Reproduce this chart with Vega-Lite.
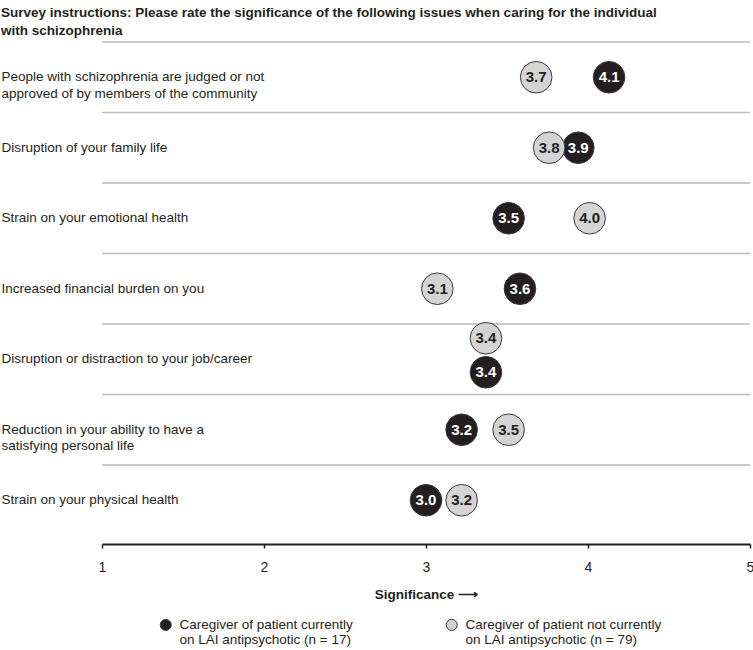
{
  "$schema": "https://vega.github.io/schema/vega-lite/v6.json",
  "autosize": {"type": "none"},
  "padding": {"left": 102, "top": 42, "right": 3, "bottom": 114.5},
  "width": 648,
  "height": 493.5,
  "background": "white",
  "config": {"font": "Liberation Sans", "view": {"stroke": null}},
  "title": {
    "text": ["Survey instructions: Please rate the significance of the following issues when caring for the individual", "with schizophrenia"],
    "anchor": "start",
    "frame": "group",
    "dx": -101,
    "offset": 4,
    "fontSize": 13.5,
    "fontWeight": "bold",
    "lineHeight": 18,
    "color": "#231f20"
  },
  "data": {
    "values": [
      {"issue": "People with schizophrenia are judged or not|approved of by members of the community", "group": "Caregiver of patient currently|on LAI antipsychotic (n = 17)", "value": 4.13, "label": "4.1"},
      {"issue": "People with schizophrenia are judged or not|approved of by members of the community", "group": "Caregiver of patient not currently|on LAI antipsychotic (n = 79)", "value": 3.68, "label": "3.7"},
      {"issue": "Disruption of your family life", "group": "Caregiver of patient currently|on LAI antipsychotic (n = 17)", "value": 3.94, "label": "3.9"},
      {"issue": "Disruption of your family life", "group": "Caregiver of patient not currently|on LAI antipsychotic (n = 79)", "value": 3.76, "label": "3.8"},
      {"issue": "Strain on your emotional health", "group": "Caregiver of patient currently|on LAI antipsychotic (n = 17)", "value": 3.51, "label": "3.5"},
      {"issue": "Strain on your emotional health", "group": "Caregiver of patient not currently|on LAI antipsychotic (n = 79)", "value": 4.01, "label": "4.0"},
      {"issue": "Increased financial burden on you", "group": "Caregiver of patient currently|on LAI antipsychotic (n = 17)", "value": 3.58, "label": "3.6"},
      {"issue": "Increased financial burden on you", "group": "Caregiver of patient not currently|on LAI antipsychotic (n = 79)", "value": 3.07, "label": "3.1"},
      {"issue": "Disruption or distraction to your job/career", "group": "Caregiver of patient currently|on LAI antipsychotic (n = 17)", "value": 3.37, "label": "3.4"},
      {"issue": "Disruption or distraction to your job/career", "group": "Caregiver of patient not currently|on LAI antipsychotic (n = 79)", "value": 3.37, "label": "3.4"},
      {"issue": "Reduction in your ability to have a|satisfying personal life", "group": "Caregiver of patient currently|on LAI antipsychotic (n = 17)", "value": 3.22, "label": "3.2"},
      {"issue": "Reduction in your ability to have a|satisfying personal life", "group": "Caregiver of patient not currently|on LAI antipsychotic (n = 79)", "value": 3.51, "label": "3.5"},
      {"issue": "Strain on your physical health", "group": "Caregiver of patient currently|on LAI antipsychotic (n = 17)", "value": 3.0, "label": "3.0"},
      {"issue": "Strain on your physical health", "group": "Caregiver of patient not currently|on LAI antipsychotic (n = 79)", "value": 3.22, "label": "3.2"}
    ]
  },
  "encoding": {
    "y": {
      "field": "issue",
      "type": "nominal",
      "sort": null,
      "scale": {"paddingInner": 0, "paddingOuter": 0},
      "axis": {
        "title": null,
        "orient": "left",
        "domain": false,
        "ticks": false,
        "grid": false,
        "labelAlign": "left",
        "labelBaseline": "middle",
        "labelPadding": 101,
        "labelLimit": 400,
        "labelFontSize": 13.5,
        "labelLineHeight": 16.5,
        "labelColor": "#231f20",
        "labelExpr": "split(datum.label, '|')"
      }
    },
    "x": {
      "field": "value",
      "type": "quantitative",
      "scale": {"domain": [1, 5], "nice": false, "zero": false},
      "axis": {
        "title": "Significance \u27F6",
        "titleFontSize": 13.5,
        "titleFontWeight": "bold",
        "titleColor": "#231f20",
        "titlePadding": 13,
        "values": [1, 2, 3, 4, 5],
        "format": "d",
        "offset": 8.5,
        "grid": false,
        "domainColor": "#231f20",
        "domainWidth": 2,
        "tickColor": "#231f20",
        "tickWidth": 1.5,
        "tickSize": 4,
        "labelFontSize": 14,
        "labelColor": "#231f20",
        "labelPadding": 12,
        "labelFlush": false
      }
    }
  },
  "layer": [
    {
      "transform": [{"filter": "indexof(datum.group, 'not') < 0"}],
      "mark": {"type": "rule", "color": "#bdbdbd", "strokeWidth": 1.5},
      "encoding": {
        "y": {"field": "issue", "type": "nominal", "sort": null, "bandPosition": 0},
        "x": {"datum": 1, "type": "quantitative"},
        "x2": {"datum": 5}
      }
    },
    {
      "transform": [{"filter": "datum.issue !== 'Disruption or distraction to your job/career'"}],
      "layer": [
        {
          "mark": {"type": "point", "filled": true, "shape": "circle", "size": 1000, "opacity": 1, "stroke": "#3a3a3a", "strokeWidth": 1},
          "encoding": {
            "fill": {
              "field": "group",
              "type": "nominal",
              "scale": {
                "domain": ["Caregiver of patient currently|on LAI antipsychotic (n = 17)", "Caregiver of patient not currently|on LAI antipsychotic (n = 79)"],
                "range": ["#231f20", "#d4d4d4"]
              },
              "legend": {
                "title": null,
                "orient": "none",
                "legendX": 57,
                "legendY": 576,
                "direction": "horizontal",
                "columns": 2,
                "columnPadding": 91,
                "padding": 0,
                "symbolType": "circle",
                "symbolSize": 121,
                "symbolStrokeColor": "#3a3a3a",
                "symbolStrokeWidth": 1,
                "labelFontSize": 13.5,
                "labelColor": "#231f20",
                "labelOffset": 7,
                "labelLimit": 400,
                "labelBaseline": "middle",
                "labelExpr": "split(datum.label, '|')",
                "encode": {"labels": {"update": {"dy": {"value": 7}, "lineHeight": {"value": 13.5}}}}
              }
            }
          }
        },
        {
          "mark": {"type": "text", "fontWeight": "bold", "fontSize": 15, "baseline": "middle"},
          "encoding": {
            "text": {"field": "label"},
            "color": {"condition": {"test": "indexof(datum.group, 'not') < 0", "value": "white"}, "value": "#231f20"}
          }
        }
      ]
    },
    {
      "transform": [{"filter": "datum.issue === 'Disruption or distraction to your job/career' && indexof(datum.group, 'not') >= 0"}],
      "layer": [
        {
          "mark": {"type": "point", "filled": true, "shape": "circle", "size": 1000, "opacity": 1, "stroke": "#3a3a3a", "strokeWidth": 1, "yOffset": -21},
          "encoding": {
            "fill": {"field": "group", "type": "nominal"}
          }
        },
        {
          "mark": {"type": "text", "fontWeight": "bold", "fontSize": 15, "baseline": "middle", "color": "#231f20", "yOffset": -21},
          "encoding": {
            "text": {"field": "label"}
          }
        }
      ]
    },
    {
      "transform": [{"filter": "datum.issue === 'Disruption or distraction to your job/career' && indexof(datum.group, 'not') < 0"}],
      "layer": [
        {
          "mark": {"type": "point", "filled": true, "shape": "circle", "size": 1000, "opacity": 1, "stroke": "#3a3a3a", "strokeWidth": 1, "yOffset": 13},
          "encoding": {
            "fill": {"field": "group", "type": "nominal"}
          }
        },
        {
          "mark": {"type": "text", "fontWeight": "bold", "fontSize": 15, "baseline": "middle", "color": "white", "yOffset": 13},
          "encoding": {
            "text": {"field": "label"}
          }
        }
      ]
    }
  ]
}
